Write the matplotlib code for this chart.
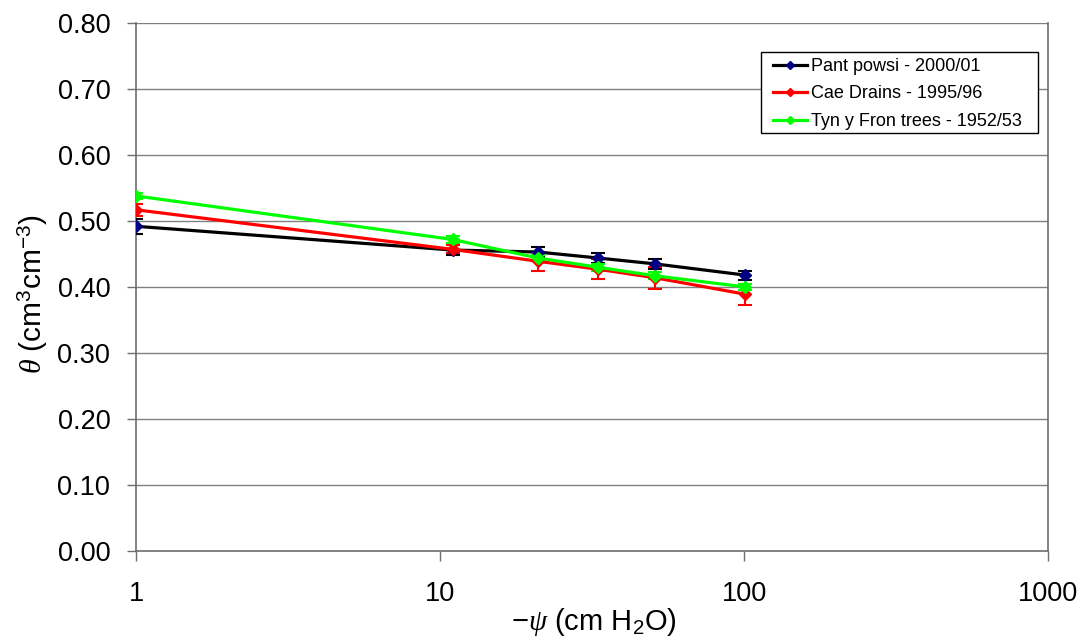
import matplotlib
matplotlib.use("Agg")
import matplotlib.pyplot as plt
from matplotlib.lines import Line2D
from matplotlib.patches import Rectangle
from matplotlib.ticker import FixedLocator, NullLocator, FuncFormatter

plt.rcParams['font.family'] = ['Liberation Sans', 'DejaVu Sans']
plt.rcParams['mathtext.fontset'] = 'custom'
plt.rcParams['mathtext.rm'] = 'Liberation Sans'
plt.rcParams['mathtext.it'] = 'Liberation Serif:italic'

W, H = 1086, 638

# Suction (cm H2O)
suction = [1, 11, 21, 33, 51, 101]

pant_label = "Pant powsi - 2000/01"
pant_theta = [0.492, 0.456, 0.453, 0.444, 0.435, 0.418]
pant_err = [0.011, 0.007, 0.008, 0.008, 0.007, 0.007]

cae_label = "Cae Drains - 1995/96"
cae_theta = [0.517, 0.457, 0.439, 0.427, 0.414, 0.389]
cae_err = [0.009, 0.006, 0.014, 0.015, 0.017, 0.016]

tyn_label = "Tyn y Fron trees - 1952/53"
tyn_theta = [0.538, 0.472, 0.444, 0.430, 0.417, 0.400]
tyn_err = [0.005, 0.005, 0.005, 0.005, 0.005, 0.005]

y_ticks = [0.0, 0.1, 0.2, 0.3, 0.4, 0.5, 0.6, 0.7, 0.8]
x_ticks = [1, 10, 100, 1000]

fig = plt.figure(figsize=(W / 100, H / 100), dpi=100)
ax = fig.add_axes([136 / W, 1 - 551 / H, (1048 - 136) / W, (551 - 23) / H])

series = [
    (pant_label, pant_theta, pant_err, 'black', '#000080'),
    (cae_label, cae_theta, cae_err, '#ff0000', '#ff0000'),
    (tyn_label, tyn_theta, tyn_err, '#00ff00', '#00ff00'),
]
handles = []
for label, theta, err, col, mcol in series:
    ax.errorbar(suction, theta, yerr=err, color=col, lw=2.3,
                marker='D', markersize=6, markerfacecolor=mcol,
                markeredgecolor=mcol, ecolor=col, elinewidth=1.5,
                capsize=5, capthick=1.5, zorder=3)
    handles.append(Line2D([], [], color=col, lw=2.3, marker='D', markersize=4,
                          markerfacecolor=mcol, markeredgecolor=mcol,
                          label=label))

ax.set_xscale('log')
ax.set_xlim(1, 1000)
ax.set_ylim(0, 0.8)
ax.xaxis.set_major_locator(FixedLocator(x_ticks))
ax.xaxis.set_minor_locator(NullLocator())
ax.xaxis.set_major_formatter(FuncFormatter(lambda v, p: f"{v:g}"))
ax.yaxis.set_major_locator(FixedLocator(y_ticks))
ax.yaxis.set_major_formatter(FuncFormatter(lambda v, p: f"{v:.2f}"))

ax.grid(axis='y', color='#808080', lw=1.0, zorder=0)
ax.set_axisbelow(True)
for s in ['left', 'bottom', 'right']:
    ax.spines[s].set_color('#6e6e6e')
    ax.spines[s].set_linewidth(1.2)
ax.spines['top'].set_visible(False)

ax.tick_params(axis='y', direction='out', length=6.5, width=1, color='#6e6e6e',
               labelsize=19.5, pad=12)
ax.tick_params(axis='x', direction='out', length=7.5, width=1, color='#6e6e6e',
               labelsize=19.5, pad=14)

fig.text(594 / W, 1 - 622 / H, r'$-\psi$ (cm H$_2$O)', fontsize=21,
         ha='center', va='center')
fig.text(33 / W, 1 - 294 / H, r'$\theta$ (cm$^3$cm$^{-3}$)', fontsize=21.5,
         ha='center', va='center', rotation=90)

# Legend box with text rows inside
fig.patches.append(Rectangle((761 / W, 1 - 133 / H), (1038 - 761) / W, 81 / H,
                             transform=fig.transFigure, facecolor='white',
                             edgecolor='black', lw=1.0, zorder=5))
leg = fig.legend(handles=handles, loc='upper left',
                 bbox_to_anchor=(773 / W, 1 - 58 / H),
                 fontsize=13, frameon=False, borderpad=0, borderaxespad=0,
                 handlelength=1.9, handletextpad=0.2, labelspacing=0.58)
leg.set_zorder(6)

fig.savefig('out.png', dpi=100, facecolor='white')
